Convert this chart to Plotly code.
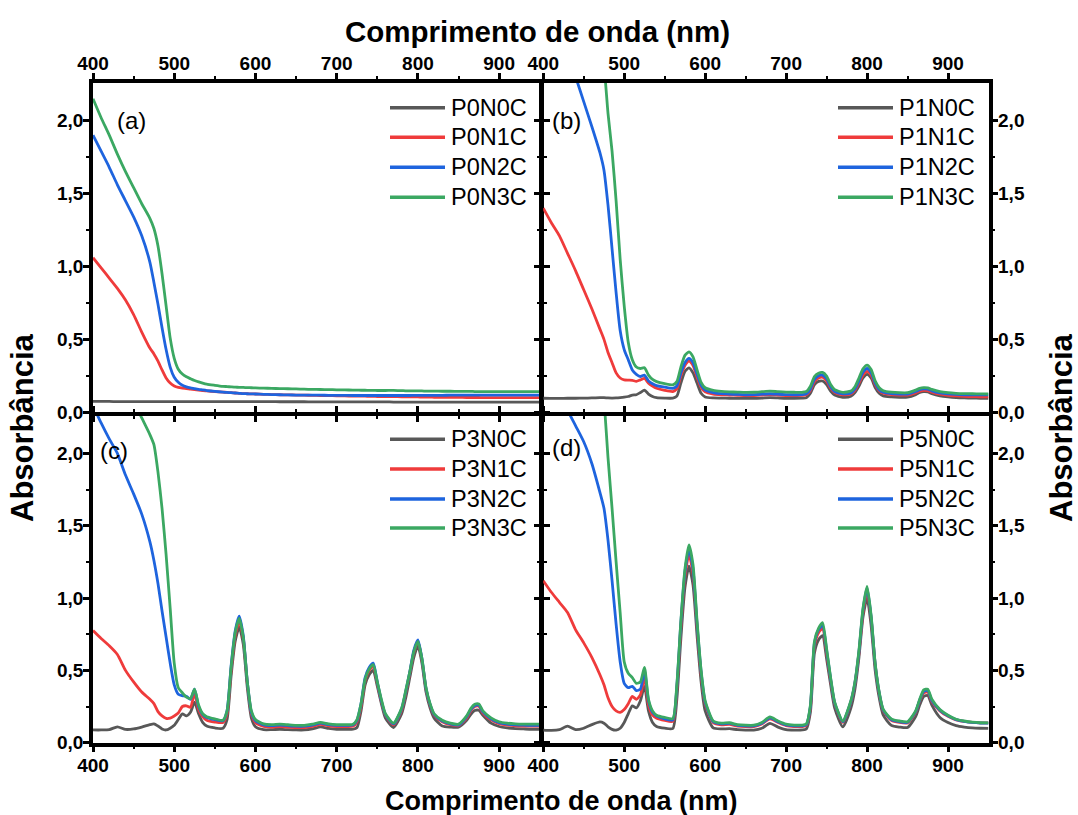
import plotly.graph_objects as go

# Wavelength grid (nm), shared by every spectrum
WAVELENGTH = [
    400, 410, 420, 430, 440, 450, 460, 470,
    475, 480, 485, 490, 495, 500, 505, 510, 515, 520, 525, 530, 535, 540,
    550, 560, 565, 570, 575, 580, 585, 590, 595, 600,
    610, 620, 630, 640, 650, 660, 670, 680, 690, 700, 710, 720,
    725, 730, 735, 740, 745, 750, 755, 760,
    770, 780, 785, 790, 795, 800, 805, 810, 815, 820,
    830, 840, 850, 860, 865, 870, 875, 880,
    890, 900, 910, 920, 930, 940, 950,
]

# ---- (a) P0 series ----
P0N0C = [
    0.075, 0.074, 0.074, 0.073, 0.073, 0.073, 0.073, 0.073,
    0.073, 0.073, 0.073, 0.073, 0.073, 0.073, 0.073, 0.073, 0.073, 0.073, 0.073, 0.073, 0.073, 0.073,
    0.073, 0.073, 0.073, 0.073, 0.073, 0.073, 0.073, 0.073, 0.073, 0.073,
    0.073, 0.073, 0.072, 0.072, 0.072, 0.072, 0.071, 0.071, 0.071, 0.071, 0.071, 0.071,
    0.071, 0.071, 0.071, 0.071, 0.071, 0.071, 0.071, 0.071,
    0.070, 0.070, 0.070, 0.070, 0.070, 0.070, 0.070, 0.070, 0.070, 0.070,
    0.070, 0.070, 0.070, 0.070, 0.070, 0.070, 0.070, 0.070,
    0.070, 0.070, 0.070, 0.070, 0.070, 0.070, 0.070,
]
P0N1C = [
    1.06, 0.99, 0.92, 0.85, 0.77, 0.67, 0.55, 0.44,
    0.40, 0.35, 0.29, 0.235, 0.20, 0.18, 0.17, 0.165, 0.162, 0.158, 0.155, 0.152, 0.149, 0.146,
    0.142, 0.138, 0.136, 0.134, 0.132, 0.130, 0.128, 0.127, 0.126, 0.125,
    0.123, 0.121, 0.120, 0.119, 0.118, 0.117, 0.116, 0.115, 0.114, 0.113, 0.112, 0.111,
    0.111, 0.110, 0.110, 0.109, 0.109, 0.108, 0.108, 0.108,
    0.107, 0.106, 0.106, 0.105, 0.105, 0.105, 0.104, 0.104, 0.104, 0.103,
    0.103, 0.102, 0.102, 0.101, 0.101, 0.101, 0.101, 0.100,
    0.100, 0.100, 0.100, 0.100, 0.100, 0.100, 0.100,
]
P0N2C = [
    1.90, 1.79, 1.68, 1.56, 1.45, 1.34, 1.21, 1.03,
    0.89, 0.74, 0.58, 0.43, 0.31, 0.24, 0.205, 0.185, 0.174, 0.167, 0.162, 0.157, 0.153, 0.149,
    0.143, 0.138, 0.136, 0.134, 0.132, 0.130, 0.128, 0.127, 0.126, 0.125,
    0.123, 0.121, 0.120, 0.119, 0.118, 0.118, 0.117, 0.117, 0.116, 0.116, 0.116, 0.115,
    0.115, 0.115, 0.115, 0.115, 0.115, 0.115, 0.115, 0.115,
    0.115, 0.115, 0.115, 0.115, 0.116, 0.116, 0.116, 0.116, 0.116, 0.116,
    0.116, 0.117, 0.117, 0.117, 0.117, 0.117, 0.117, 0.117,
    0.117, 0.117, 0.118, 0.118, 0.118, 0.118, 0.118,
]
P0N3C = [
    2.15, 2.02, 1.90, 1.77, 1.65, 1.54, 1.43, 1.33,
    1.26, 1.14, 0.95, 0.73, 0.51, 0.37, 0.295, 0.262, 0.243, 0.230, 0.218, 0.208, 0.200, 0.193,
    0.185, 0.178, 0.176, 0.174, 0.172, 0.171, 0.170, 0.169, 0.168, 0.167,
    0.165, 0.164, 0.162, 0.161, 0.160, 0.158, 0.157, 0.156, 0.155, 0.154, 0.153, 0.152,
    0.152, 0.151, 0.151, 0.150, 0.150, 0.149, 0.149, 0.149,
    0.150, 0.148, 0.147, 0.147, 0.146, 0.146, 0.146, 0.145, 0.145, 0.145,
    0.144, 0.144, 0.143, 0.143, 0.143, 0.142, 0.142, 0.142,
    0.142, 0.141, 0.141, 0.141, 0.141, 0.141, 0.141,
]

# ---- (b) P1 series ----
P1N0C = [
    0.096, 0.095, 0.095, 0.096, 0.096, 0.097, 0.098, 0.100,
    0.100, 0.098, 0.097, 0.098, 0.100, 0.103, 0.108, 0.118, 0.120, 0.135, 0.152, 0.125, 0.108, 0.100,
    0.097, 0.097, 0.110, 0.200, 0.280, 0.305, 0.270, 0.200, 0.130, 0.105,
    0.098, 0.097, 0.096, 0.095, 0.095, 0.095, 0.097, 0.100, 0.098, 0.096, 0.096, 0.097,
    0.100, 0.130, 0.190, 0.212, 0.214, 0.190, 0.145, 0.118,
    0.103, 0.110, 0.135, 0.180, 0.235, 0.260, 0.235, 0.170, 0.130, 0.112,
    0.105, 0.102, 0.103, 0.120, 0.135, 0.141, 0.139, 0.128,
    0.113, 0.105, 0.100, 0.098, 0.097, 0.096, 0.096,
]
P1N1C = [
    1.40, 1.30, 1.21, 1.09, 0.97, 0.84, 0.71, 0.57,
    0.50, 0.41, 0.34, 0.27, 0.235, 0.222, 0.220, 0.219, 0.212, 0.222, 0.232, 0.200, 0.180, 0.165,
    0.150, 0.142, 0.160, 0.250, 0.320, 0.350, 0.320, 0.240, 0.170, 0.140,
    0.125, 0.120, 0.118, 0.116, 0.114, 0.115, 0.118, 0.121, 0.118, 0.115, 0.114, 0.115,
    0.120, 0.150, 0.210, 0.235, 0.240, 0.215, 0.165, 0.135,
    0.120, 0.126, 0.150, 0.200, 0.255, 0.280, 0.255, 0.190, 0.148, 0.130,
    0.121, 0.118, 0.118, 0.133, 0.145, 0.150, 0.148, 0.138,
    0.124, 0.116, 0.112, 0.109, 0.107, 0.106, 0.105,
]
P1N2C = [
    2.95, 2.80, 2.63, 2.46, 2.30, 2.13, 1.96, 1.78,
    1.66, 1.42, 1.12, 0.82, 0.56, 0.43, 0.36, 0.29, 0.26, 0.245, 0.255, 0.215, 0.195, 0.183,
    0.172, 0.164, 0.180, 0.270, 0.340, 0.370, 0.340, 0.260, 0.185, 0.152,
    0.135, 0.127, 0.125, 0.122, 0.120, 0.121, 0.124, 0.127, 0.124, 0.121, 0.120, 0.121,
    0.126, 0.160, 0.225, 0.250, 0.255, 0.230, 0.175, 0.142,
    0.127, 0.133, 0.160, 0.215, 0.275, 0.300, 0.272, 0.200, 0.155, 0.137,
    0.128, 0.125, 0.125, 0.142, 0.155, 0.160, 0.158, 0.147,
    0.133, 0.126, 0.122, 0.120, 0.120, 0.120, 0.120,
]
P1N3C = [
    3.90, 3.75, 3.60, 3.45, 3.30, 3.10, 2.85, 2.55,
    2.38, 2.05, 1.79, 1.45, 1.05, 0.73, 0.48, 0.36, 0.31, 0.300, 0.305, 0.255, 0.225, 0.210,
    0.196, 0.188, 0.210, 0.310, 0.390, 0.414, 0.380, 0.290, 0.205, 0.168,
    0.150, 0.143, 0.140, 0.138, 0.136, 0.137, 0.141, 0.145, 0.141, 0.138, 0.137, 0.137,
    0.142, 0.178, 0.245, 0.268, 0.273, 0.248, 0.190, 0.155,
    0.137, 0.145, 0.175, 0.235, 0.298, 0.323, 0.293, 0.215, 0.168, 0.148,
    0.138, 0.134, 0.134, 0.152, 0.164, 0.169, 0.167, 0.157,
    0.142, 0.134, 0.130, 0.128, 0.127, 0.126, 0.125,
]

# ---- (c) P3 series ----
P3N0C = [
    0.088, 0.088, 0.090, 0.110, 0.092, 0.095, 0.108, 0.125,
    0.130, 0.115, 0.095, 0.088, 0.100, 0.120, 0.160, 0.200, 0.185, 0.210, 0.280, 0.200, 0.140, 0.115,
    0.102, 0.100, 0.160, 0.460, 0.700, 0.800, 0.680, 0.380, 0.170, 0.110,
    0.090, 0.090, 0.093, 0.090, 0.088, 0.088, 0.095, 0.110, 0.099, 0.093, 0.092, 0.093,
    0.105, 0.220, 0.400, 0.470, 0.500, 0.390, 0.270, 0.170,
    0.105, 0.200, 0.310, 0.450, 0.590, 0.670, 0.550, 0.350, 0.240, 0.170,
    0.115, 0.108, 0.108, 0.155, 0.195, 0.222, 0.224, 0.190,
    0.135, 0.112, 0.102, 0.097, 0.095, 0.093, 0.093,
]
P3N1C = [
    0.775, 0.72, 0.67, 0.61, 0.50, 0.42, 0.35, 0.30,
    0.27, 0.215, 0.185, 0.168, 0.170, 0.185, 0.205, 0.250, 0.255, 0.245, 0.340, 0.230, 0.180, 0.155,
    0.143, 0.140, 0.200, 0.500, 0.740, 0.840, 0.720, 0.410, 0.200, 0.140,
    0.113, 0.108, 0.112, 0.108, 0.105, 0.105, 0.113, 0.127, 0.117, 0.112, 0.112, 0.114,
    0.145, 0.250, 0.430, 0.500, 0.525, 0.410, 0.285, 0.190,
    0.123, 0.225, 0.345, 0.480, 0.625, 0.700, 0.570, 0.370, 0.260, 0.190,
    0.145, 0.125, 0.118, 0.170, 0.220, 0.250, 0.252, 0.205,
    0.158, 0.132, 0.122, 0.117, 0.115, 0.114, 0.114,
]
P3N2C = [
    2.33, 2.21, 2.10, 2.00, 1.85, 1.72, 1.58, 1.39,
    1.26, 1.10, 0.91, 0.73, 0.55, 0.40, 0.335, 0.325, 0.320, 0.300, 0.370, 0.250, 0.195, 0.175,
    0.160, 0.152, 0.220, 0.530, 0.770, 0.875, 0.740, 0.420, 0.210, 0.152,
    0.123, 0.118, 0.122, 0.118, 0.114, 0.114, 0.122, 0.135, 0.125, 0.120, 0.120, 0.122,
    0.155, 0.270, 0.450, 0.520, 0.550, 0.420, 0.290, 0.195,
    0.130, 0.235, 0.355, 0.490, 0.640, 0.710, 0.580, 0.375, 0.265, 0.195,
    0.150, 0.130, 0.122, 0.178, 0.228, 0.258, 0.260, 0.213,
    0.165, 0.138, 0.128, 0.123, 0.121, 0.120, 0.120,
]
P3N3C = [
    3.00, 2.90, 2.80, 2.65, 2.50, 2.36, 2.245, 2.13,
    2.06, 1.87, 1.62, 1.30, 0.93, 0.55, 0.38, 0.345, 0.315, 0.305, 0.370, 0.260, 0.200, 0.180,
    0.165, 0.155, 0.220, 0.520, 0.760, 0.860, 0.730, 0.420, 0.220, 0.160,
    0.130, 0.125, 0.128, 0.124, 0.120, 0.120, 0.128, 0.140, 0.130, 0.125, 0.125, 0.128,
    0.160, 0.270, 0.440, 0.510, 0.540, 0.420, 0.300, 0.200,
    0.135, 0.240, 0.360, 0.490, 0.630, 0.700, 0.580, 0.380, 0.270, 0.200,
    0.155, 0.135, 0.128, 0.185, 0.235, 0.265, 0.268, 0.220,
    0.172, 0.145, 0.135, 0.130, 0.128, 0.128, 0.128,
]

# ---- (d) P5 series ----
P5N0C = [
    0.087, 0.085, 0.090, 0.114, 0.090, 0.100, 0.125, 0.144,
    0.135, 0.110, 0.092, 0.087, 0.100, 0.140, 0.200, 0.255, 0.240, 0.290, 0.390, 0.220, 0.140, 0.112,
    0.100, 0.098, 0.300, 0.720, 1.070, 1.220, 1.090, 0.740, 0.420, 0.220,
    0.102, 0.095, 0.097, 0.090, 0.087, 0.087, 0.100, 0.133, 0.108, 0.090, 0.087, 0.088,
    0.095, 0.210, 0.620, 0.710, 0.740, 0.580, 0.400, 0.240,
    0.110, 0.240, 0.370, 0.590, 0.870, 1.000, 0.810, 0.500, 0.310, 0.190,
    0.120, 0.108, 0.105, 0.180, 0.260, 0.320, 0.327, 0.260,
    0.175, 0.140, 0.118, 0.108, 0.102, 0.100, 0.099,
]
P5N1C = [
    1.12, 1.04, 0.97, 0.90, 0.78, 0.69, 0.59, 0.47,
    0.40, 0.31, 0.25, 0.22, 0.21, 0.23, 0.27, 0.32, 0.30, 0.33, 0.45, 0.26, 0.19, 0.17,
    0.155, 0.148, 0.370, 0.800, 1.150, 1.300, 1.170, 0.800, 0.470, 0.270,
    0.138, 0.124, 0.127, 0.115, 0.111, 0.111, 0.130, 0.165, 0.140, 0.118, 0.112, 0.112,
    0.120, 0.240, 0.670, 0.760, 0.790, 0.620, 0.430, 0.270,
    0.140, 0.280, 0.410, 0.620, 0.900, 1.050, 0.860, 0.540, 0.340, 0.220,
    0.155, 0.140, 0.137, 0.210, 0.290, 0.345, 0.350, 0.285,
    0.220, 0.182, 0.158, 0.147, 0.140, 0.137, 0.137,
]
P5N2C = [
    2.75, 2.60, 2.45, 2.30, 2.19, 2.08, 1.93, 1.73,
    1.62, 1.40, 1.12, 0.82, 0.56, 0.41, 0.38, 0.39, 0.36, 0.37, 0.50, 0.29, 0.21, 0.185,
    0.165, 0.158, 0.390, 0.830, 1.180, 1.340, 1.200, 0.820, 0.490, 0.280,
    0.145, 0.130, 0.133, 0.120, 0.116, 0.116, 0.135, 0.172, 0.145, 0.123, 0.117, 0.117,
    0.125, 0.250, 0.690, 0.780, 0.810, 0.640, 0.440, 0.275,
    0.145, 0.285, 0.415, 0.630, 0.920, 1.070, 0.870, 0.545, 0.345, 0.225,
    0.160, 0.145, 0.141, 0.215, 0.295, 0.355, 0.360, 0.292,
    0.225, 0.186, 0.160, 0.148, 0.140, 0.136, 0.135,
]
P5N3C = [
    3.90, 3.80, 3.70, 3.60, 3.50, 3.30, 3.05, 2.70,
    2.38, 1.97, 1.62, 1.25, 0.90, 0.56, 0.48, 0.45, 0.41, 0.42, 0.52, 0.30, 0.22, 0.19,
    0.175, 0.167, 0.400, 0.840, 1.200, 1.368, 1.230, 0.840, 0.500, 0.290,
    0.150, 0.135, 0.138, 0.125, 0.121, 0.121, 0.140, 0.178, 0.150, 0.128, 0.122, 0.122,
    0.130, 0.260, 0.700, 0.790, 0.830, 0.650, 0.450, 0.280,
    0.150, 0.290, 0.420, 0.640, 0.930, 1.080, 0.880, 0.550, 0.350, 0.230,
    0.165, 0.150, 0.145, 0.220, 0.300, 0.365, 0.370, 0.300,
    0.230, 0.190, 0.162, 0.150, 0.142, 0.138, 0.137,
]

PANELS = [
    ("(a)", ["P0N0C", "P0N1C", "P0N2C", "P0N3C"], [P0N0C, P0N1C, P0N2C, P0N3C]),
    ("(b)", ["P1N0C", "P1N1C", "P1N2C", "P1N3C"], [P1N0C, P1N1C, P1N2C, P1N3C]),
    ("(c)", ["P3N0C", "P3N1C", "P3N2C", "P3N3C"], [P3N0C, P3N1C, P3N2C, P3N3C]),
    ("(d)", ["P5N0C", "P5N1C", "P5N2C", "P5N3C"], [P5N0C, P5N1C, P5N2C, P5N3C]),
]
COLORS = ["#585858", "#EF3B3B", "#1E64DE", "#3BA862"]
X_TICKS = [400, 500, 600, 700, 800, 900]
Y_TICKS = [0.0, 0.5, 1.0, 1.5, 2.0]

W, H = 1078, 815
FONT = "Arial, Liberation Sans, sans-serif"
AXIS_LW = 3.5
HALF = AXIS_LW / 2


def fx(px):
    return px / W


def fy(py):
    return 1 - py / H


# panel boxes in pixels: left, right, top, bottom.
# Plotly draws axis lines just outside each box, so neighbouring boxes are
# pulled apart by half a line width each to make their frames coincide.
X_SPLIT = 541.5
Y_SPLIT = 414.0
BOXES = [
    (93.0, X_SPLIT - HALF, 82.7, Y_SPLIT - HALF),
    (X_SPLIT + HALF, 988.5, 82.7, Y_SPLIT - HALF),
    (93.0, X_SPLIT - HALF, Y_SPLIT + HALF, 742.7),
    (X_SPLIT + HALF, 988.5, Y_SPLIT + HALF, 742.7),
]

fig = go.Figure()

for i, (tag, names, series) in enumerate(PANELS):
    suffix = "" if i == 0 else str(i + 1)
    for name, vals, col in zip(names, series, COLORS):
        fig.add_trace(go.Scatter(
            x=WAVELENGTH, y=vals, name=name, mode="lines",
            line=dict(color=col, width=2.8, shape="spline", smoothing=0.6),
            xaxis="x" + suffix, yaxis="y" + suffix, showlegend=False,
        ))

axis_common = dict(
    showline=True, linecolor="black", linewidth=AXIS_LW, mirror="ticks",
    ticks="outside", ticklen=6, tickwidth=2.5, tickcolor="black",
    showgrid=False, zeroline=False, automargin=False,
    tickfont=dict(family=FONT, size=19, color="black", weight="bold"),
)

layout_axes = {}
for i, (l, r, t, b) in enumerate(BOXES):
    suffix = "" if i == 0 else str(i + 1)
    top_row = i < 2
    right_col = i % 2 == 1
    layout_axes["xaxis" + suffix] = dict(
        axis_common, domain=[fx(l), fx(r)], range=[400, 950],
        anchor="y" + suffix, side="top" if top_row else "bottom",
        tickvals=X_TICKS, ticktext=[str(v) for v in X_TICKS],
        ticklabelstandoff=-5 if top_row else -3,
        minor=dict(ticks="outside", ticklen=3, tickwidth=2, tickcolor="black",
                   tickvals=[450, 550, 650, 750, 850]),
    )
    layout_axes["yaxis" + suffix] = dict(
        axis_common, domain=[fy(b), fy(t)], range=[0, 2.26],
        anchor="x" + suffix, side="right" if right_col else "left",
        tickvals=Y_TICKS, tickformat=".1f",
        ticklabelstandoff=-4,
        minor=dict(ticks="outside", ticklen=3, tickwidth=2, tickcolor="black",
                   tickvals=[0.25, 0.75, 1.25, 1.75]),
    )

annotations = []
shapes = []

# panel tags
tag_pos = [(131.7, 120), (566.5, 120), (114, 450), (566.7, 447)]
for (tag, _, _), (px, py) in zip(PANELS, tag_pos):
    annotations.append(dict(
        text=tag, x=fx(px), y=fy(py), xref="paper", yref="paper",
        showarrow=False, xanchor="center", yanchor="middle",
        font=dict(family=FONT, size=24, color="black"),
    ))

# legends drawn as line samples with labels
legend_x = [(390, 445), (838, 893), (390, 445), (838, 893)]
legend_y = [[107.7, 137.3, 167.3, 197.3], [107.7, 137.3, 167.3, 197.3],
            [439.3, 469.0, 499.0, 528.0], [439.3, 469.0, 499.0, 528.0]]
for (tag, names, _), (x0, x1), rows in zip(PANELS, legend_x, legend_y):
    for name, col, py in zip(names, COLORS, rows):
        shapes.append(dict(
            type="line", xref="paper", yref="paper",
            x0=fx(x0), x1=fx(x1), y0=fy(py), y1=fy(py),
            line=dict(color=col, width=3.5),
        ))
        annotations.append(dict(
            text=name, x=fx(x1 + 4), y=fy(py), xref="paper", yref="paper",
            showarrow=False, xanchor="left", yanchor="middle",
            font=dict(family=FONT, size=23.5, color="black"),
        ))

# axis titles
annotations.append(dict(
    text="<b>Comprimento de onda (nm)</b>", x=fx(537), y=fy(31),
    xref="paper", yref="paper", showarrow=False,
    xanchor="center", yanchor="middle",
    font=dict(family=FONT, size=29.5, color="black"),
))
annotations.append(dict(
    text="<b>Comprimento de onda (nm)</b>", x=fx(561), y=fy(801),
    xref="paper", yref="paper", showarrow=False,
    xanchor="center", yanchor="middle",
    font=dict(family=FONT, size=27, color="black"),
))
for px in (22, 1061):
    annotations.append(dict(
        text="<b>Absorbância</b>", x=fx(px), y=fy(428),
        xref="paper", yref="paper", showarrow=False, textangle=-90,
        xanchor="center", yanchor="middle",
        font=dict(family=FONT, size=31, color="black"),
    ))

fig.update_layout(
    template="none",
    width=W, height=H,
    margin=dict(l=0, r=0, t=0, b=0, autoexpand=False),
    paper_bgcolor="white", plot_bgcolor="white",
    separators=",.",
    showlegend=False,
    annotations=annotations,
    shapes=shapes,
    **layout_axes,
)

fig.write_html("out.html")
